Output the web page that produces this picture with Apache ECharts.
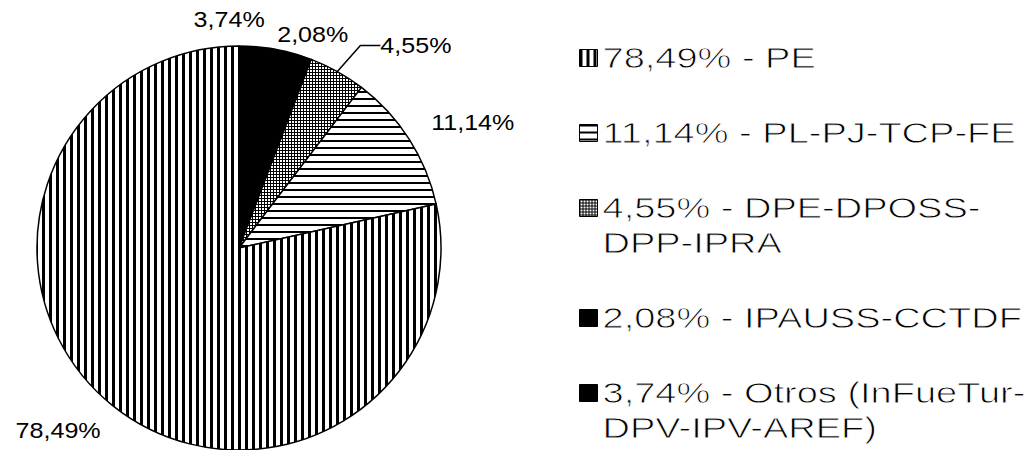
<!DOCTYPE html>
<html>
<head>
<meta charset="utf-8">
<script src="https://cdn.jsdelivr.net/npm/echarts@6/dist/echarts.min.js"></script>
<style>
  html, body { margin: 0; padding: 0; background: #fff; }
  #chart { width: 1034px; height: 450px; }
  /* thin the legend strokes a little: the reference typeface is light */
  #chart text[style*="29px"] { stroke: #fff; stroke-width: 0.8px; paint-order: normal; }
</style>
</head>
<body>
<div id="chart"></div>
<script>
// Slices in clockwise order from 12 o'clock
const categories = ['Otros (InFueTur-\nDPV-IPV-AREF)', 'IPAUSS-CCTDF', 'DPE-DPOSS-\nDPP-IPRA', 'PL-PJ-TCP-FE', 'PE'];
const values = [3.74, 2.08, 4.55, 11.14, 78.49];
// Legend order as shown
const legendOrder = ['PE', 'PL-PJ-TCP-FE', 'DPE-DPOSS-\nDPP-IPRA', 'IPAUSS-CCTDF', 'Otros (InFueTur-\nDPV-IPV-AREF)'];

const FONT = 'Liberation Sans';
const LEGEND_SIZE = 29, LABEL_SIZE = 22;
const CX = 239, CY = 248, R = 202;

function fmtPct(v) { return v.toFixed(2).replace('.', ',') + '%'; }
const valueByName = {};
categories.forEach((c, i) => { valueByName[c] = values[i]; });
const total = values.reduce((a, b) => a + b, 0);

function makePattern(w, h, draw) {
  const c = document.createElement('canvas');
  c.width = w; c.height = h;
  const ctx = c.getContext('2d');
  ctx.fillStyle = '#fff'; ctx.fillRect(0, 0, w, h);
  ctx.fillStyle = '#000';
  draw(ctx);
  return { image: c.toDataURL(), repeat: 'repeat', imageWidth: w, imageHeight: h };
}
const vertPat = makePattern(7, 7, ctx => ctx.fillRect(0, 0, 3, 7));
const horzPat = makePattern(7, 7, ctx => ctx.fillRect(0, 0, 7, 2));
const gridPat = makePattern(3, 3, ctx => { ctx.fillRect(0, 0, 3, 1); ctx.fillRect(0, 0, 1, 3); });
const fills = ['#000', '#000', gridPat, horzPat, vertPat];

// label placement relative to the slice's outer mid point
const labelPlacement = [
  { dx: 2, dy: -28, align: 'right' },
  { dx: 14, dy: -21, align: 'center' },
  { dx: 43, dy: -26, align: 'left' },
  { dx: 22, dy: -17, align: 'left' },
  { dx: -12, dy: 25, align: 'right' }
];

const data = categories.map((name, i) => {
  const item = { name, value: values[i], itemStyle: { color: fills[i] } };
  if (i === 2) {
    item.labelLine = { show: true, length: 10, length2: 20, lineStyle: { color: '#000', width: 1.5 } };
  }
  return item;
});

const legendCenters = [58, 133, 208, 318, 393];
const legends = legendOrder.map((name, j) => {
  const twoLine = name.indexOf('\n') >= 0;
  return {
    data: [{ name, icon: 'rect' }],
    orient: 'vertical',
    left: 579,
    top: legendCenters[j] - (twoLine ? 52.5 : 17.5),
    padding: 0,
    itemGap: 0,
    itemWidth: 18,
    itemHeight: 17,
    selectedMode: false,
    itemStyle: { borderColor: '#000', borderWidth: 1 },
    textStyle: {
      fontSize: LEGEND_SIZE, fontFamily: FONT, color: '#000', lineHeight: 35,
      backgroundColor: 'rgba(0,0,0,0)'
    },
    // a leading empty line keeps the icon level with the first text line
    formatter: n => (twoLine ? '\n' : '') + fmtPct(valueByName[n]) + ' - ' + n
  };
});

const chart = echarts.init(document.getElementById('chart'), null, { renderer: 'svg' });
chart.setOption({
  animation: false,
  backgroundColor: '#fff',
  legend: legends,
  series: [{
    type: 'pie',
    center: [CX, CY],
    radius: R,
    startAngle: 90,
    clockwise: true,
    avoidLabelOverlap: false,
    silent: true,
    itemStyle: { borderColor: '#000', borderWidth: 1.5 },
    label: {
      show: true, position: 'outside',
      fontSize: LABEL_SIZE, fontFamily: FONT, color: '#000',
      formatter: p => fmtPct(p.value)
    },
    labelLine: { show: false },
    labelLayout: function (p) {
      const i = p.dataIndex;
      const pl = labelPlacement[i];
      if (!pl) return;
      let before = 0;
      for (let k = 0; k < i; k++) before += values[k];
      const mid = (before + values[i] / 2) / total * Math.PI * 2;
      const ax = CX + R * Math.sin(mid);
      const ay = CY - R * Math.cos(mid);
      return { x: ax + pl.dx, y: ay + pl.dy, align: pl.align, verticalAlign: 'middle' };
    },
    data: data
  }]
});

// The reference typeface is horizontally wide: stretch glyphs of real SVG text.
function stretchTexts() {
  document.querySelectorAll('#chart text').forEach(t => {
    const st = t.getAttribute('style') || '';
    let k = 0;
    if (st.indexOf(LEGEND_SIZE + 'px') >= 0) k = 1.31;
    else if (st.indexOf(LABEL_SIZE + 'px') >= 0) k = 1.14;
    if (!k || !t.textContent || t.getAttribute('data-str') === t.textContent) return;
    t.removeAttribute('textLength');
    const w = t.getComputedTextLength();
    if (!w) return;
    t.setAttribute('textLength', (w * k).toFixed(1));
    t.setAttribute('lengthAdjust', 'spacingAndGlyphs');
    t.setAttribute('data-str', t.textContent);
  });
}
stretchTexts();
chart.on('finished', stretchTexts);
setTimeout(stretchTexts, 50);
</script>
</body>
</html>
